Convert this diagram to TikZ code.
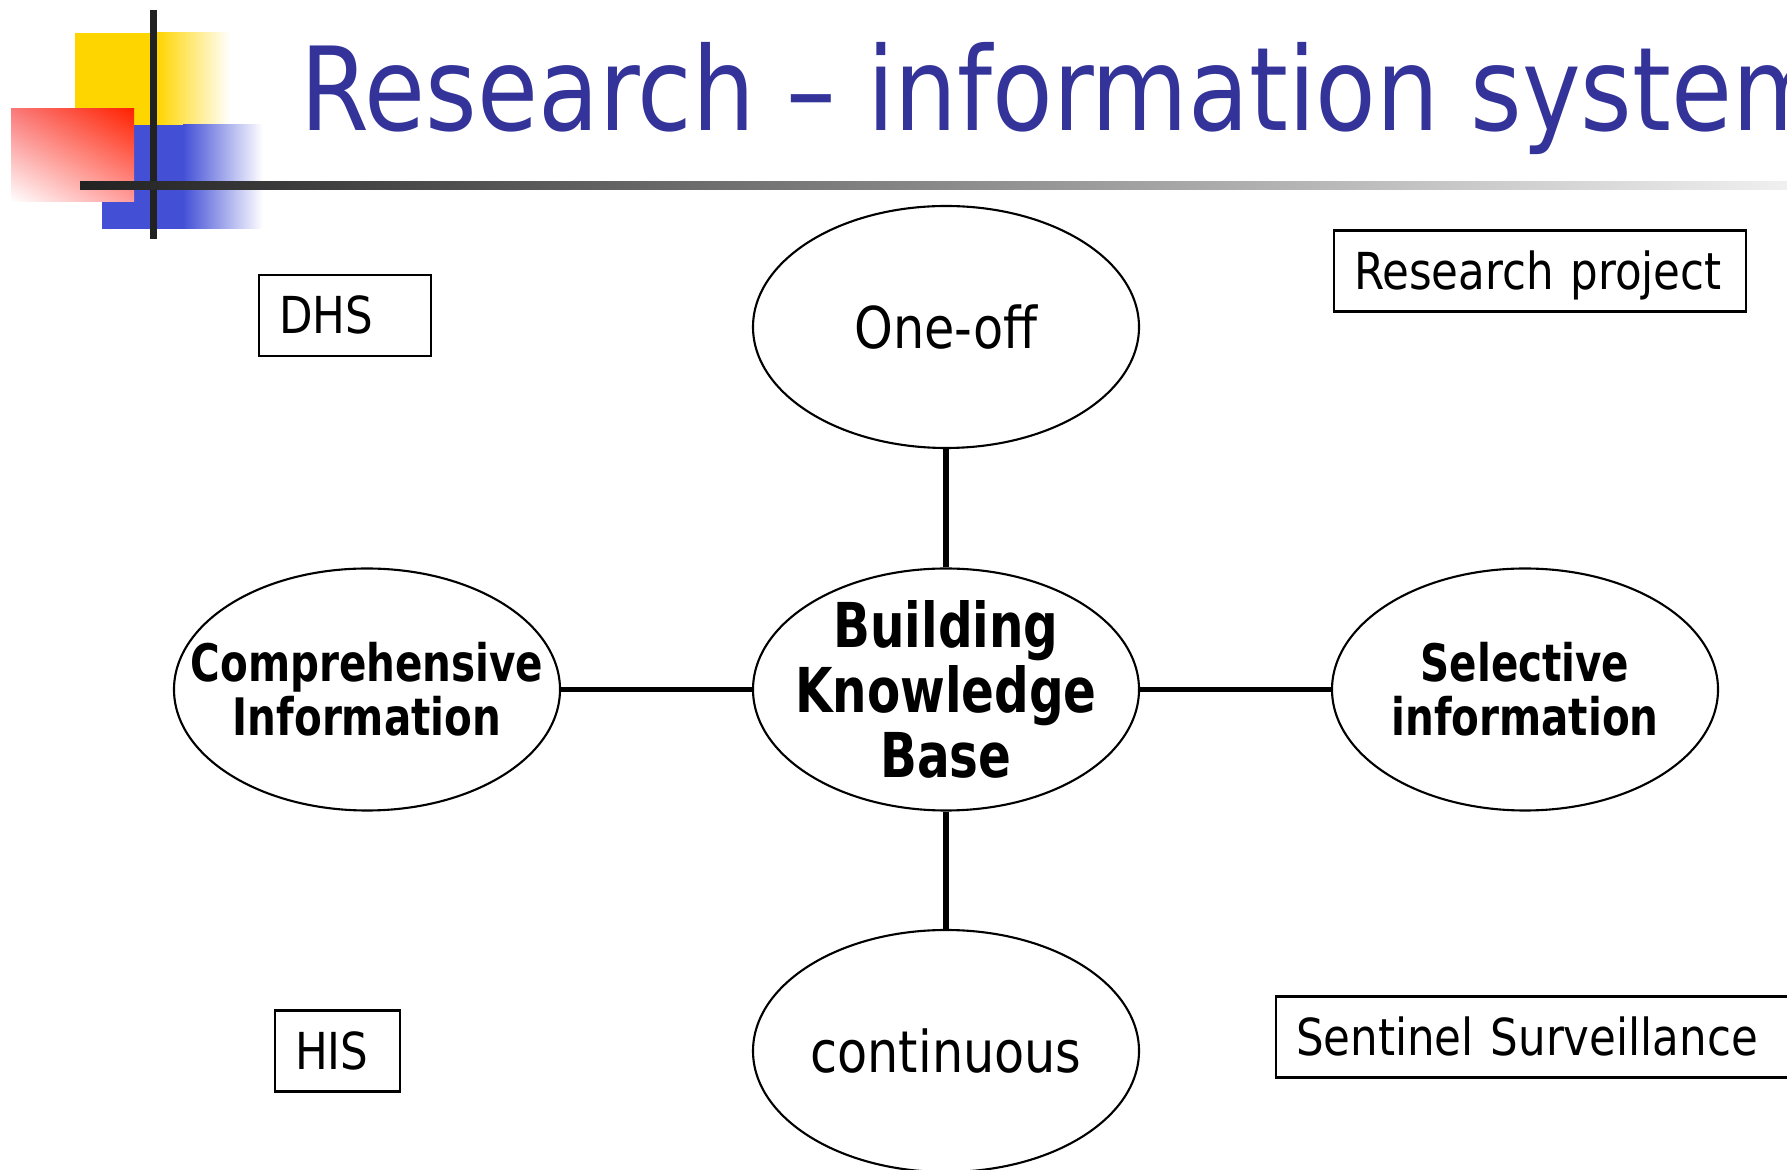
\documentclass[tikz,border=0pt]{standalone}
\usepackage{fontspec}
\usetikzlibrary{shapes.geometric,shadings}
\newfontfamily\tahoma[FakeStretch=0.95]{DejaVu Sans Condensed}
\newfontfamily\tahomabf[FakeStretch=0.87]{DejaVu Sans Condensed}
\definecolor{titleblue}{HTML}{333399}
\definecolor{logoyellow}{HTML}{FFD500}
\definecolor{logoblue}{HTML}{4350D6}
\definecolor{logored}{HTML}{FF2200}
\definecolor{logopink}{HTML}{FA7A7A}
\definecolor{logorose}{HTML}{FF9C9C}
\definecolor{barblack}{HTML}{222222}
\begin{document}
\begin{tikzpicture}[
        bubble/.style={draw, ellipse, line width=0.6pt, minimum width=3.86cm, minimum height=2.42cm, inner sep=0pt},
        plaintext/.style={align=center, inner sep=0pt, font=\tahoma\fontsize{16.4}{18}\selectfont},
        boldtext/.style={align=center, inner sep=0pt, font=\tahomabf\bfseries\fontsize{14.7}{15.4}\selectfont},
        bigtext/.style={align=center, inner sep=0pt, font=\tahomabf\bfseries\fontsize{17.6}{18.5}\selectfont},
        tag/.style={draw, line width=0.6pt, anchor=west, align=left, inner xsep=0.2cm, inner ysep=0pt,
            minimum height=0.81cm, text height=0.37cm, text depth=0pt, font=\tahoma\fontsize{14.5}{16}\selectfont},
        link/.style={line width=1.7pt},
    ]
    \useasboundingbox (0,0) rectangle (17.87,11.69);
    \clip (0,0) rectangle (17.87,11.69);

    % logo
    \fill[logoyellow] (0.75,11.36) rectangle (1.57,10.44);
    \shade[left color=logoyellow, right color=white] (1.57,11.36) rectangle (2.30,10.44);
    \fill[logoblue] (1.02,10.44) rectangle (1.83,9.40);
    \shade[left color=logoblue, right color=white] (1.83,10.44) rectangle (2.63,9.40);
    \shade[upper left=logopink, upper right=logored, lower left=white, lower right=logorose] (0.11,10.60) rectangle (1.34,9.67);
    \fill[barblack] (1.50,11.59) rectangle (1.57,9.30);
    \shade[left color=barblack, right color=white!94!black] (0.80,9.87) rectangle (17.87,9.79);

    \node[anchor=base west, inner sep=0pt, text=titleblue, font=\tahoma\fontsize{33}{36}\selectfont] (title) at (3.00,10.38) {Research – information system};

    \node[bubble, label={[plaintext]center:One-off}] (oneoff) at (9.46,8.42) {};
    \node[bubble, label={[bigtext]center:Building\\Knowledge\\Base}] (kbase) at (9.46,4.795) {};
    \node[bubble, label={[boldtext]center:Comprehensive\\Information}] (compinfo) at (3.67,4.795) {};
    \node[bubble, label={[boldtext]center:Selective\\information}] (selinfo) at (15.25,4.795) {};
    \node[bubble, label={[plaintext]center:continuous}] (contin) at (9.46,1.18) {};

    \node[tag, text width=1.32cm] (dhs) at (2.58,8.535) {DHS};
    \node[tag, text width=3.72cm] (resproj) at (13.33,8.98) {Research project};
    \node[tag, text width=0.85cm] (his) at (2.74,1.18) {HIS};
    \node[tag, text width=5.20cm] (sentinel) at (12.75,1.32) {Sentinel Surveillance};

    \path[link]
    (kbase) edge (oneoff) edge (compinfo)
    (kbase) edge (selinfo) edge (contin)
    ;
\end{tikzpicture}
\end{document}
